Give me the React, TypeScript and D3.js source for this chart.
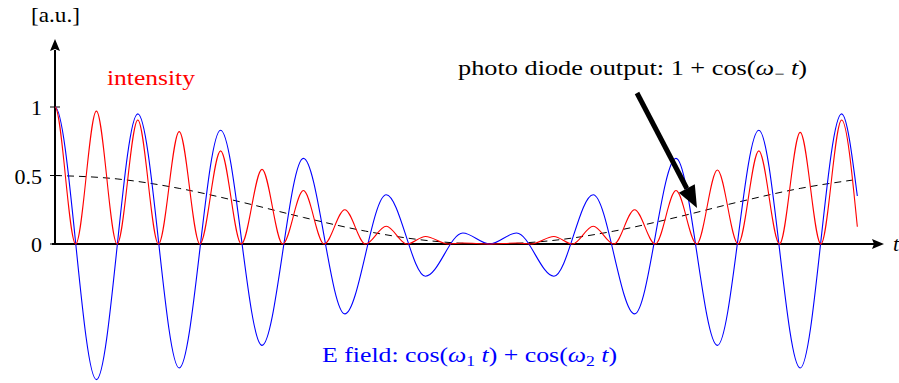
import * as d3 from "d3";

// time axis in half-periods of the carrier; values in [a.u.]
const blueT = [0, 1, 2, 3, 4, 5, 6, 7, 8, 8.95, 9.85, 10.5, 11.15, 12.05, 13, 14, 15, 16, 17, 18, 19, 19.38];
const blueV = [1.0, -0.99, 0.95, -0.905, 0.83, -0.74, 0.625, -0.51, 0.36, -0.235, 0.08, 0, 0.08, -0.235, 0.36, -0.51, 0.625, -0.74, 0.83, -0.905, 0.95, 0.35];

const redT = [0, 0.5, 1, 1.5, 2, 2.5, 3, 3.5, 4, 4.5, 5, 5.5, 6, 6.5, 7, 7.5, 8, 8.5, 8.95, 9.5, 9.85, 10.5,
  11.15, 11.5, 12.05, 12.5, 13, 13.5, 14, 14.5, 15, 15.5, 16, 16.5, 17, 17.5, 18, 18.5, 19, 19.38];
const redV = [1.0, 0, 0.97, 0, 0.905, 0, 0.82, 0, 0.68, 0, 0.545, 0, 0.39, 0, 0.25, 0, 0.13, 0, 0.055, 0, 0.007, 0,
  0.007, 0, 0.055, 0, 0.13, 0, 0.25, 0, 0.39, 0, 0.54, 0, 0.68, 0, 0.815, 0, 0.905, 0.126];

const dashT = [0, 1.5, 3, 4.5, 6, 7.5, 9, 10.5, 12, 13.5, 15, 16.5, 18, 19.25];
const dashV = [0.5, 0.475, 0.406, 0.306, 0.194, 0.094, 0.025, 0, 0.025, 0.094, 0.194, 0.306, 0.406, 0.466];

const tickValues = [0, 0.5, 1];
const tickLabels = ["0", "0.5", "1"];

const font = "Liberation Serif, Times New Roman, serif";

// monotone cubic through the points, but flat at the first point (both curves start on a crest)
function flatStartPath(pts: [number, number][]) {
  const n = pts.length;
  const s: number[] = [];
  for (let i = 0; i < n - 1; i++) s.push((pts[i + 1][1] - pts[i][1]) / (pts[i + 1][0] - pts[i][0]));
  const m: number[] = new Array(n).fill(0);
  for (let i = 1; i < n - 1; i++) {
    if (s[i - 1] * s[i] > 0) {
      const h0 = pts[i][0] - pts[i - 1][0],
        h1 = pts[i + 1][0] - pts[i][0];
      const p = (s[i - 1] * h1 + s[i] * h0) / (h0 + h1);
      m[i] = 2 * Math.sign(s[i]) * Math.min(Math.abs(s[i - 1]), Math.abs(s[i]), 0.5 * Math.abs(p));
    }
  }
  m[n - 1] = (3 * s[n - 2] - m[n - 2]) / 2;
  const path = d3.path();
  path.moveTo(pts[0][0], pts[0][1]);
  for (let i = 0; i < n - 1; i++) {
    const h = (pts[i + 1][0] - pts[i][0]) / 3;
    path.bezierCurveTo(
      pts[i][0] + h,
      pts[i][1] + m[i] * h,
      pts[i + 1][0] - h,
      pts[i + 1][1] - m[i + 1] * h,
      pts[i + 1][0],
      pts[i + 1][1]
    );
  }
  return path.toString();
}

export default function App() {
  const width = 899,
    height = 383;

  let x = d3.scaleLinear().domain([0, 20]).range([55, 883]),
    y = d3.scaleLinear().domain([0, 1]).range([244, 107]);

  const dashLine = d3
    .line<[number, number]>()
    .x((d) => x(d[0]))
    .y((d) => y(d[1]))
    .curve(d3.curveMonotoneX);

  const blue = blueT.map((t, i) => [x(t), y(blueV[i])] as [number, number]);
  const red = redT.map((t, i) => [x(t), y(redV[i])] as [number, number]);
  const dash = dashT.map((t, i) => [t, dashV[i]] as [number, number]);

  const x0 = x(0),
    y0 = y(0);

  // big annotation arrow
  const a1 = [637, 93],
    a2 = [697, 208];
  const ang = Math.atan2(a2[1] - a1[1], a2[0] - a1[0]);
  const headLen = 22,
    headW = 9;
  const hb = [a2[0] - headLen * Math.cos(ang), a2[1] - headLen * Math.sin(ang)];
  const head = [
    a2,
    [hb[0] + headW * Math.sin(ang), hb[1] - headW * Math.cos(ang)],
    [hb[0] - headW * Math.sin(ang), hb[1] + headW * Math.cos(ang)],
  ];

  const txt = { fontFamily: font };

  return (
    <svg
      width={width}
      height={height}
      viewBox={`0 0 ${width} ${height}`}
      style={{ position: "absolute", left: 0, top: 0, background: "white", fontFamily: font }}
    >
      {/* axes */}
      <line x1={x0 - 3} y1={y0} x2={875} y2={y0} stroke="black" strokeWidth={2} />
      <path d={`M884,${y0} L872,${y0 - 5} L874,${y0} L872,${y0 + 5} Z`} fill="black" />
      <line x1={x0} y1={y0 + 1} x2={x0} y2={50} stroke="black" strokeWidth={2} />
      <path d={`M${x0},39 L${x0 - 5},51 L${x0},49 L${x0 + 5},51 Z`} fill="black" />
      {tickValues.map((v, i) => (
        <g key={i}>
          <line x1={x0 - 5} x2={x0 + 5} y1={y(v)} y2={y(v)} stroke="black" strokeWidth={1} />
          <text x={42} y={y(v) + 8} textAnchor="end" fontSize={22} style={txt}>
            {tickLabels[i]}
          </text>
        </g>
      ))}
      <text x={893} y={251} fontSize={22} fontStyle="italic" style={txt}>
        t
      </text>
      <text x={31} y={22} fontSize={22} textLength={49} lengthAdjust="spacingAndGlyphs" style={txt}>
        [a.u.]
      </text>

      {/* curves */}
      <path d={dashLine(dash) || ""} fill="none" stroke="black" strokeWidth={1} strokeDasharray="7,5" />
      <path d={flatStartPath(blue)} fill="none" stroke="#0000ff" strokeWidth={1.1} />
      <path d={flatStartPath(red)} fill="none" stroke="#ff0000" strokeWidth={1.1} />

      {/* arrow */}
      <line x1={a1[0]} y1={a1[1]} x2={hb[0]} y2={hb[1]} stroke="black" strokeWidth={5} />
      <polygon points={head.map((p) => p.join(",")).join(" ")} fill="black" />

      {/* labels */}
      <text x={107} y={85} fontSize={22} fill="#ff0000" textLength={88} lengthAdjust="spacingAndGlyphs" style={txt}>
        intensity
      </text>
      <text x={458} y={75} fontSize={22} textLength={349} lengthAdjust="spacingAndGlyphs" style={txt}>
        photo diode output: 1 + cos(<tspan fontStyle="italic">ω</tspan>
        <tspan fontSize={15} dy={4}>−</tspan>
        <tspan dy={-4} fontStyle="italic"> t</tspan>)
      </text>
      <text x={322} y={362} fontSize={22} fill="#0000ff" textLength={295} lengthAdjust="spacingAndGlyphs" style={txt}>
        E field: cos(<tspan fontStyle="italic">ω</tspan>
        <tspan fontSize={15} dy={4}>1</tspan>
        <tspan dy={-4} fontStyle="italic"> t</tspan>) + cos(<tspan fontStyle="italic">ω</tspan>
        <tspan fontSize={15} dy={4}>2</tspan>
        <tspan dy={-4} fontStyle="italic"> t</tspan>)
      </text>
    </svg>
  );
}
